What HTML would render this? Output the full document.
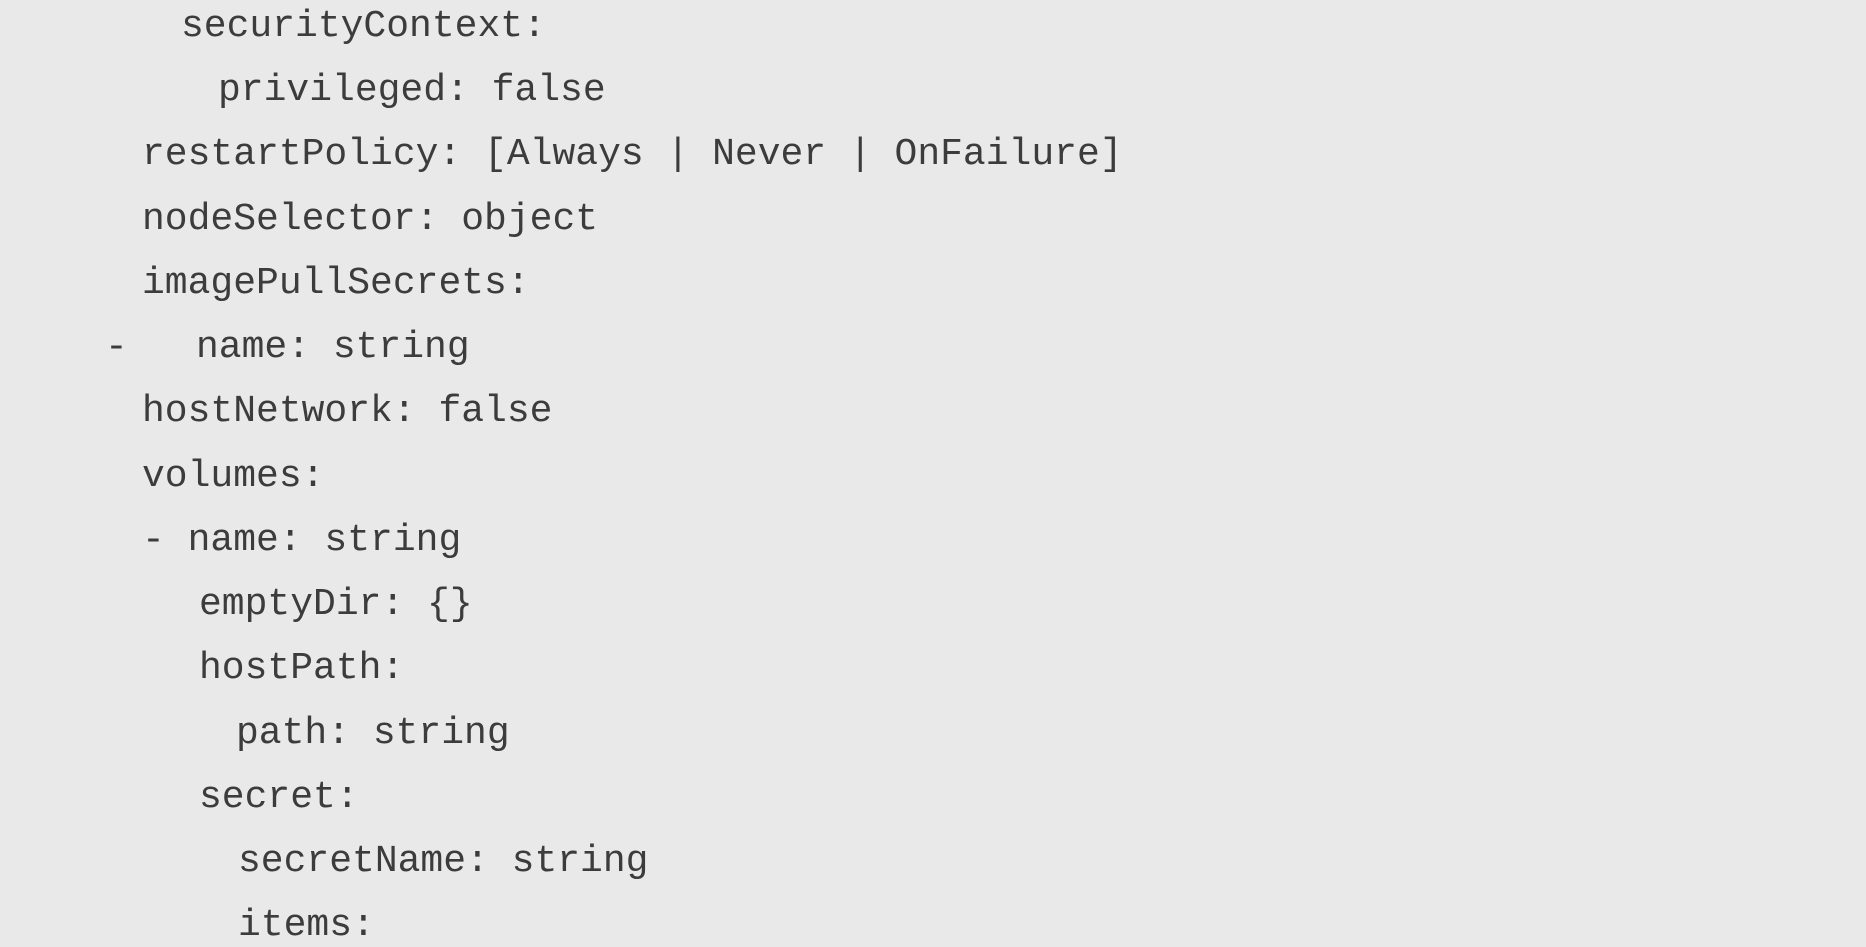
<!DOCTYPE html>
<html><head><meta charset="utf-8"><style>
html,body{margin:0;padding:0;}
body{width:1866px;height:946px;background:#e9e9e9;position:relative;overflow:hidden;}
.l{position:absolute;font-family:"Liberation Mono",monospace;font-size:38px;line-height:40px;color:#3c3c3c;white-space:pre;}
</style></head><body>
<div class="l" style="left:181px;top:7px">securityContext:</div>
<div class="l" style="left:218px;top:71px">privileged: false</div>
<div class="l" style="left:142px;top:135px">restartPolicy: [Always | Never | OnFailure]</div>
<div class="l" style="left:142px;top:200px">nodeSelector: object</div>
<div class="l" style="left:142px;top:264px">imagePullSecrets:</div>
<div class="l" style="left:105px;top:328px">-</div>
<div class="l" style="left:196px;top:328px">name: string</div>
<div class="l" style="left:142px;top:392px">hostNetwork: false</div>
<div class="l" style="left:142px;top:457px">volumes:</div>
<div class="l" style="left:142px;top:521px">- name: string</div>
<div class="l" style="left:199px;top:585px">emptyDir: {}</div>
<div class="l" style="left:199px;top:649px">hostPath:</div>
<div class="l" style="left:236px;top:714px">path: string</div>
<div class="l" style="left:199px;top:778px">secret:</div>
<div class="l" style="left:238px;top:842px">secretName: string</div>
<div class="l" style="left:238px;top:906px">items:</div>
</body></html>
